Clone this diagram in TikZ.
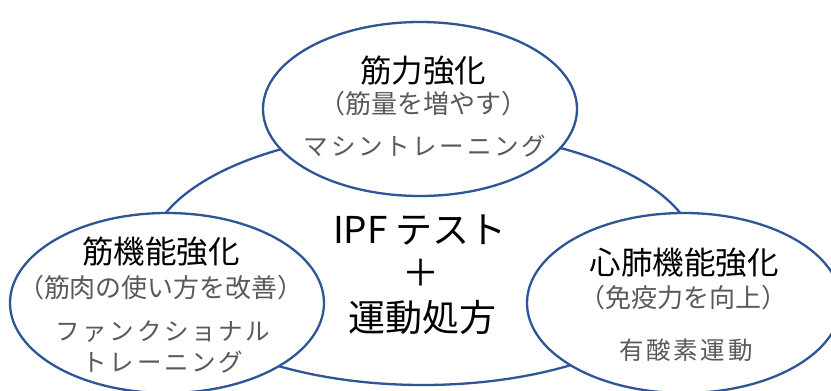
\documentclass[tikz,border=0pt]{standalone}
\usepackage{fontspec}
\setmainfont{Noto Sans CJK JP}
\usetikzlibrary{shapes.geometric}
\definecolor{ringblue}{HTML}{2F5597}
\definecolor{subgrey}{HTML}{595959}
\tikzset{
  ring/.style={draw=ringblue, line width=2.3pt, fill=white, ellipse, inner sep=0pt},
  title/.style={inner sep=0pt, anchor=center, font=\fontsize{31.5}{36}\selectfont, text=black},
  subt/.style={inner sep=0pt, anchor=center, font=\fontsize{26}{30}\selectfont, text=subgrey},
  item/.style={inner sep=0pt, anchor=center, font=\fontsize{24.5}{28}\selectfont\addfontfeature{LetterSpace=11}, text=subgrey},
  core/.style={inner sep=0pt, anchor=center, font=\fontsize{37}{42}\selectfont, text=black},
}
\begin{document}
\begin{tikzpicture}[x=1pt,y=-1pt]
\useasboundingbox (0,0) rectangle (831,391);
\fill[white] (0,0) rectangle (831,391);
% central ellipse
\node[ring, minimum width=550pt, minimum height=254pt] (mid) at (423,258) {};
% three outer ellipses
\node[ring, minimum width=314pt, minimum height=174pt] (topring) at (420,109) {};
\node[ring, minimum width=314pt, minimum height=180pt] (leftring) at (167,303) {};
\node[ring, minimum width=314pt, minimum height=180pt] (rightring) at (684,303) {};
% top texts
\node[title] (t1) at (423,71) {筋力強化};
\node[subt] (t2) at (423,104) {（筋量を増やす）};
\node[item] (t3) at (425,146) {マシントレーニング};
% left texts
\node[title] (l1) at (161,252) {筋機能強化};
\node[subt] (l2) at (161,288) {（筋肉の使い方を改善）};
\node[item] (l3) at (163,332) {ファンクショナル};
\node[item] (l4) at (163,362) {トレーニング};
% right texts
\node[title] (r1) at (684,263) {心肺機能強化};
\node[subt] (r2) at (683,298) {（免疫力を向上）};
\node[item] (r3) at (686,350) {有酸素運動};
% center texts
\node[core] (c1) at (420,230) {IPF テスト};
\node[core] (c2) at (421,273) {＋};
\node[core] (c3) at (422,317) {運動処方};
\end{tikzpicture}
\end{document}
